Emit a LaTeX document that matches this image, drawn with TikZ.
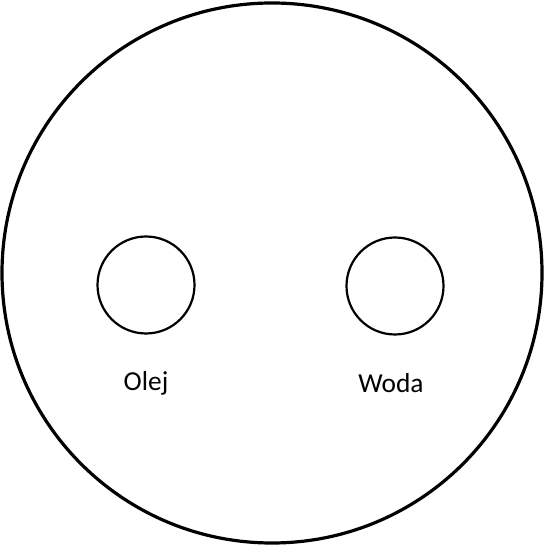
\documentclass[tikz,border=0pt]{standalone}
\usepackage{fontspec}
\setmainfont{Carlito}
\usetikzlibrary{calc}
\usepackage{tkz-euclide}

\begin{document}
\begin{tikzpicture}[x=1bp,y=1bp]
\useasboundingbox (0,0) rectangle (544,547);
\tkzSetUpLine[line width=1pt,color=black]

\tkzDefPoint(272,274){O}
\tkzDefPoint(272,4){A}

\tkzDefPoint(146,262){L}
\tkzDefPoint(146,213.5){LL}

\tkzDefPoint(395,261){W}
\tkzDefPoint(395,212.5){WW}

\tkzDrawCircle[line width=3.2bp,color=black](O,A)
\tkzDrawCircles[line width=2.2bp,color=black](L,LL W,WW)

\node[font=\fontsize{27.5}{32}\selectfont] (olej) at (146,164) {Olej};
\node[font=\fontsize{27.5}{32}\selectfont] (woda) at (391,164) {Woda};

\end{tikzpicture}
\end{document}
